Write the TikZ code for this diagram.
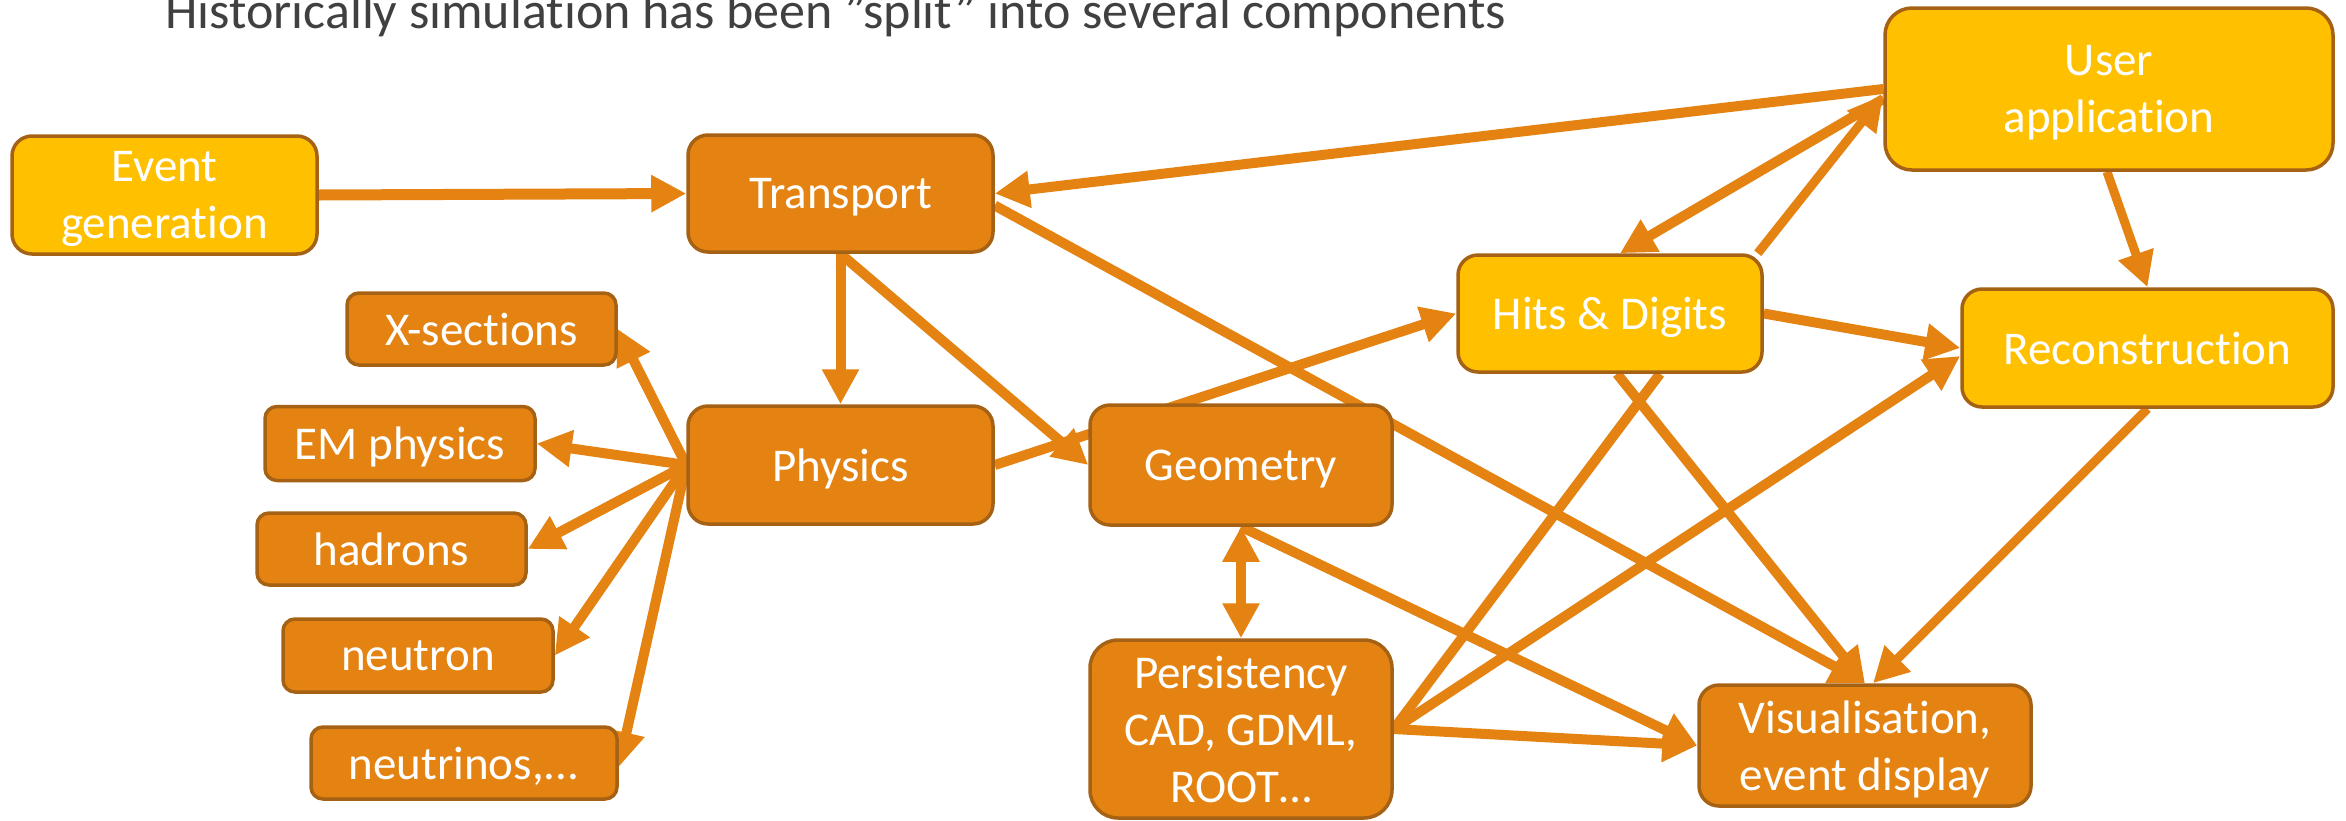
\documentclass[tikz,border=0pt]{standalone}
\usepackage{fontspec}
\setmainfont{Carlito}[Ligatures=NoCommon]
\usetikzlibrary{arrows.meta}
\definecolor{yel}{RGB}{255,192,0}
\definecolor{org}{RGB}{228,131,18}
\definecolor{brd}{RGB}{166,98,20}
\definecolor{ttl}{RGB}{64,64,64}
\pgfdeclarelayer{bg}
\pgfsetlayers{bg,main}
\begin{document}
\begin{tikzpicture}[x=1pt,y=-1pt,
  box/.style={draw=brd, line width=3.5pt, rounded corners=#1, text=white,
    font=\fontsize{47pt}{57pt}\selectfont, align=center, inner sep=0pt, text depth=0pt},
  box/.default=18pt,
  ybox/.style={box=#1, fill=yel},
  obox/.style={box=#1, fill=org},
  arr/.style={draw=org, line width=10pt, -{Triangle[length=35pt,width=35pt]}},
  darr/.style={draw=org, line width=10pt, {Triangle[length=35pt,width=35pt]}-{Triangle[length=35pt,width=35pt]}},
  plain/.style={draw=org, line width=10pt}]
\useasboundingbox (0,0) rectangle (2346,820);

\node[anchor=base west, text=ttl, font=\fontsize{52pt}{60pt}\selectfont, inner sep=0pt] (title) at (165,28)
  {Historically simulation has been ”split” into several components};

\node[ybox=20pt, minimum width=305pt, minimum height=118pt] (evgen) at (164.5,195) {Event\\generation};
\node[obox=20pt, minimum width=305pt, minimum height=117pt] (transport) at (840.5,193.5) {Transport};
\node[obox=20pt, minimum width=305pt, minimum height=118pt] (physics) at (840.5,465) {Physics};
\node[obox=12pt, minimum width=269pt, minimum height=72pt] (xsec) at (481.5,329) {X-sections};
\node[obox=12pt, minimum width=270pt, minimum height=74pt] (em) at (400,443.5) {EM physics};
\node[obox=12pt, minimum width=269pt, minimum height=72pt] (hadrons) at (391.5,549) {hadrons};
\node[obox=12pt, minimum width=270pt, minimum height=73pt] (neutron) at (418,655.5) {neutron};
\node[obox=12pt, minimum width=306pt, minimum height=72pt] (neutrinos) at (464,763) {neutrinos,...};
\node[obox=20pt, minimum width=302pt, minimum height=120pt] (geometry) at (1241,465) {Geometry};
\node[obox=28pt, minimum width=302pt, minimum height=178pt] (persist) at (1241,729) {Persistency\\CAD, GDML,\\ROOT…\rule[-4pt]{0pt}{1pt}};
\node[obox=20pt, minimum width=332pt, minimum height=121pt] (vis) at (1865,745.5) {Visualisation,\\event display};
\node[ybox=20pt, minimum width=304pt, minimum height=117pt] (hits) at (1610,313.5) {Hits \& Digits};
\node[ybox=20pt, minimum width=371pt, minimum height=118pt] (recon) at (2147.5,348) {Reconstruction};
\node[ybox=27pt, minimum width=448pt, minimum height=162pt] (user) at (2109,89) {User\\application};

\begin{pgfonlayer}{bg}
\fill[white] (0,0) rectangle (2346,820);
\draw[arr, line width=11pt] (evgen.east) -- (transport.west);
\draw[arr] (user.west) -- (transport.east);
\draw[arr] (transport.south) -- (physics.north);
\draw[arr] (transport.south) -- (geometry.west);
\draw[arr] ([yshift=-12pt]transport.east) -- (vis.north);
\draw[arr] (physics.west) -- (xsec.east);
\draw[arr] (physics.west) -- (em.east);
\draw[arr] (physics.west) -- (hadrons.east);
\draw[arr] (physics.west) -- (neutron.east);
\draw[arr] (physics.west) -- ([yshift=-4pt]neutrinos.east);
\draw[arr] (physics.east) -- (hits.west);
\draw[darr] (geometry.south) -- (persist.north);
\draw[arr] (geometry.south) -- (vis.west);
\draw[arr] (persist.east) -- (vis.west);
\draw[plain] (persist.east) -- ([xshift=50pt]hits.south);
\draw[arr] (persist.east) -- ([yshift=-8pt]recon.west);
\draw[arr] ([xshift=7pt]hits.south) -- (vis.north);
\draw[arr] (hits.east) -- (recon.west);
\draw[arr] ([yshift=-10pt]user.west) -- ([xshift=10pt]hits.north);
\draw[arr, line width=9pt] ([xshift=-6pt]hits.north east) -- ([yshift=-6pt]user.west);
\draw[arr, line width=9pt] ([xshift=-2pt]user.south) -- (recon.north);
\draw[arr, line width=9pt] (recon.south) -- ([xshift=8pt]vis.north);
\end{pgfonlayer}
\end{tikzpicture}
\end{document}
